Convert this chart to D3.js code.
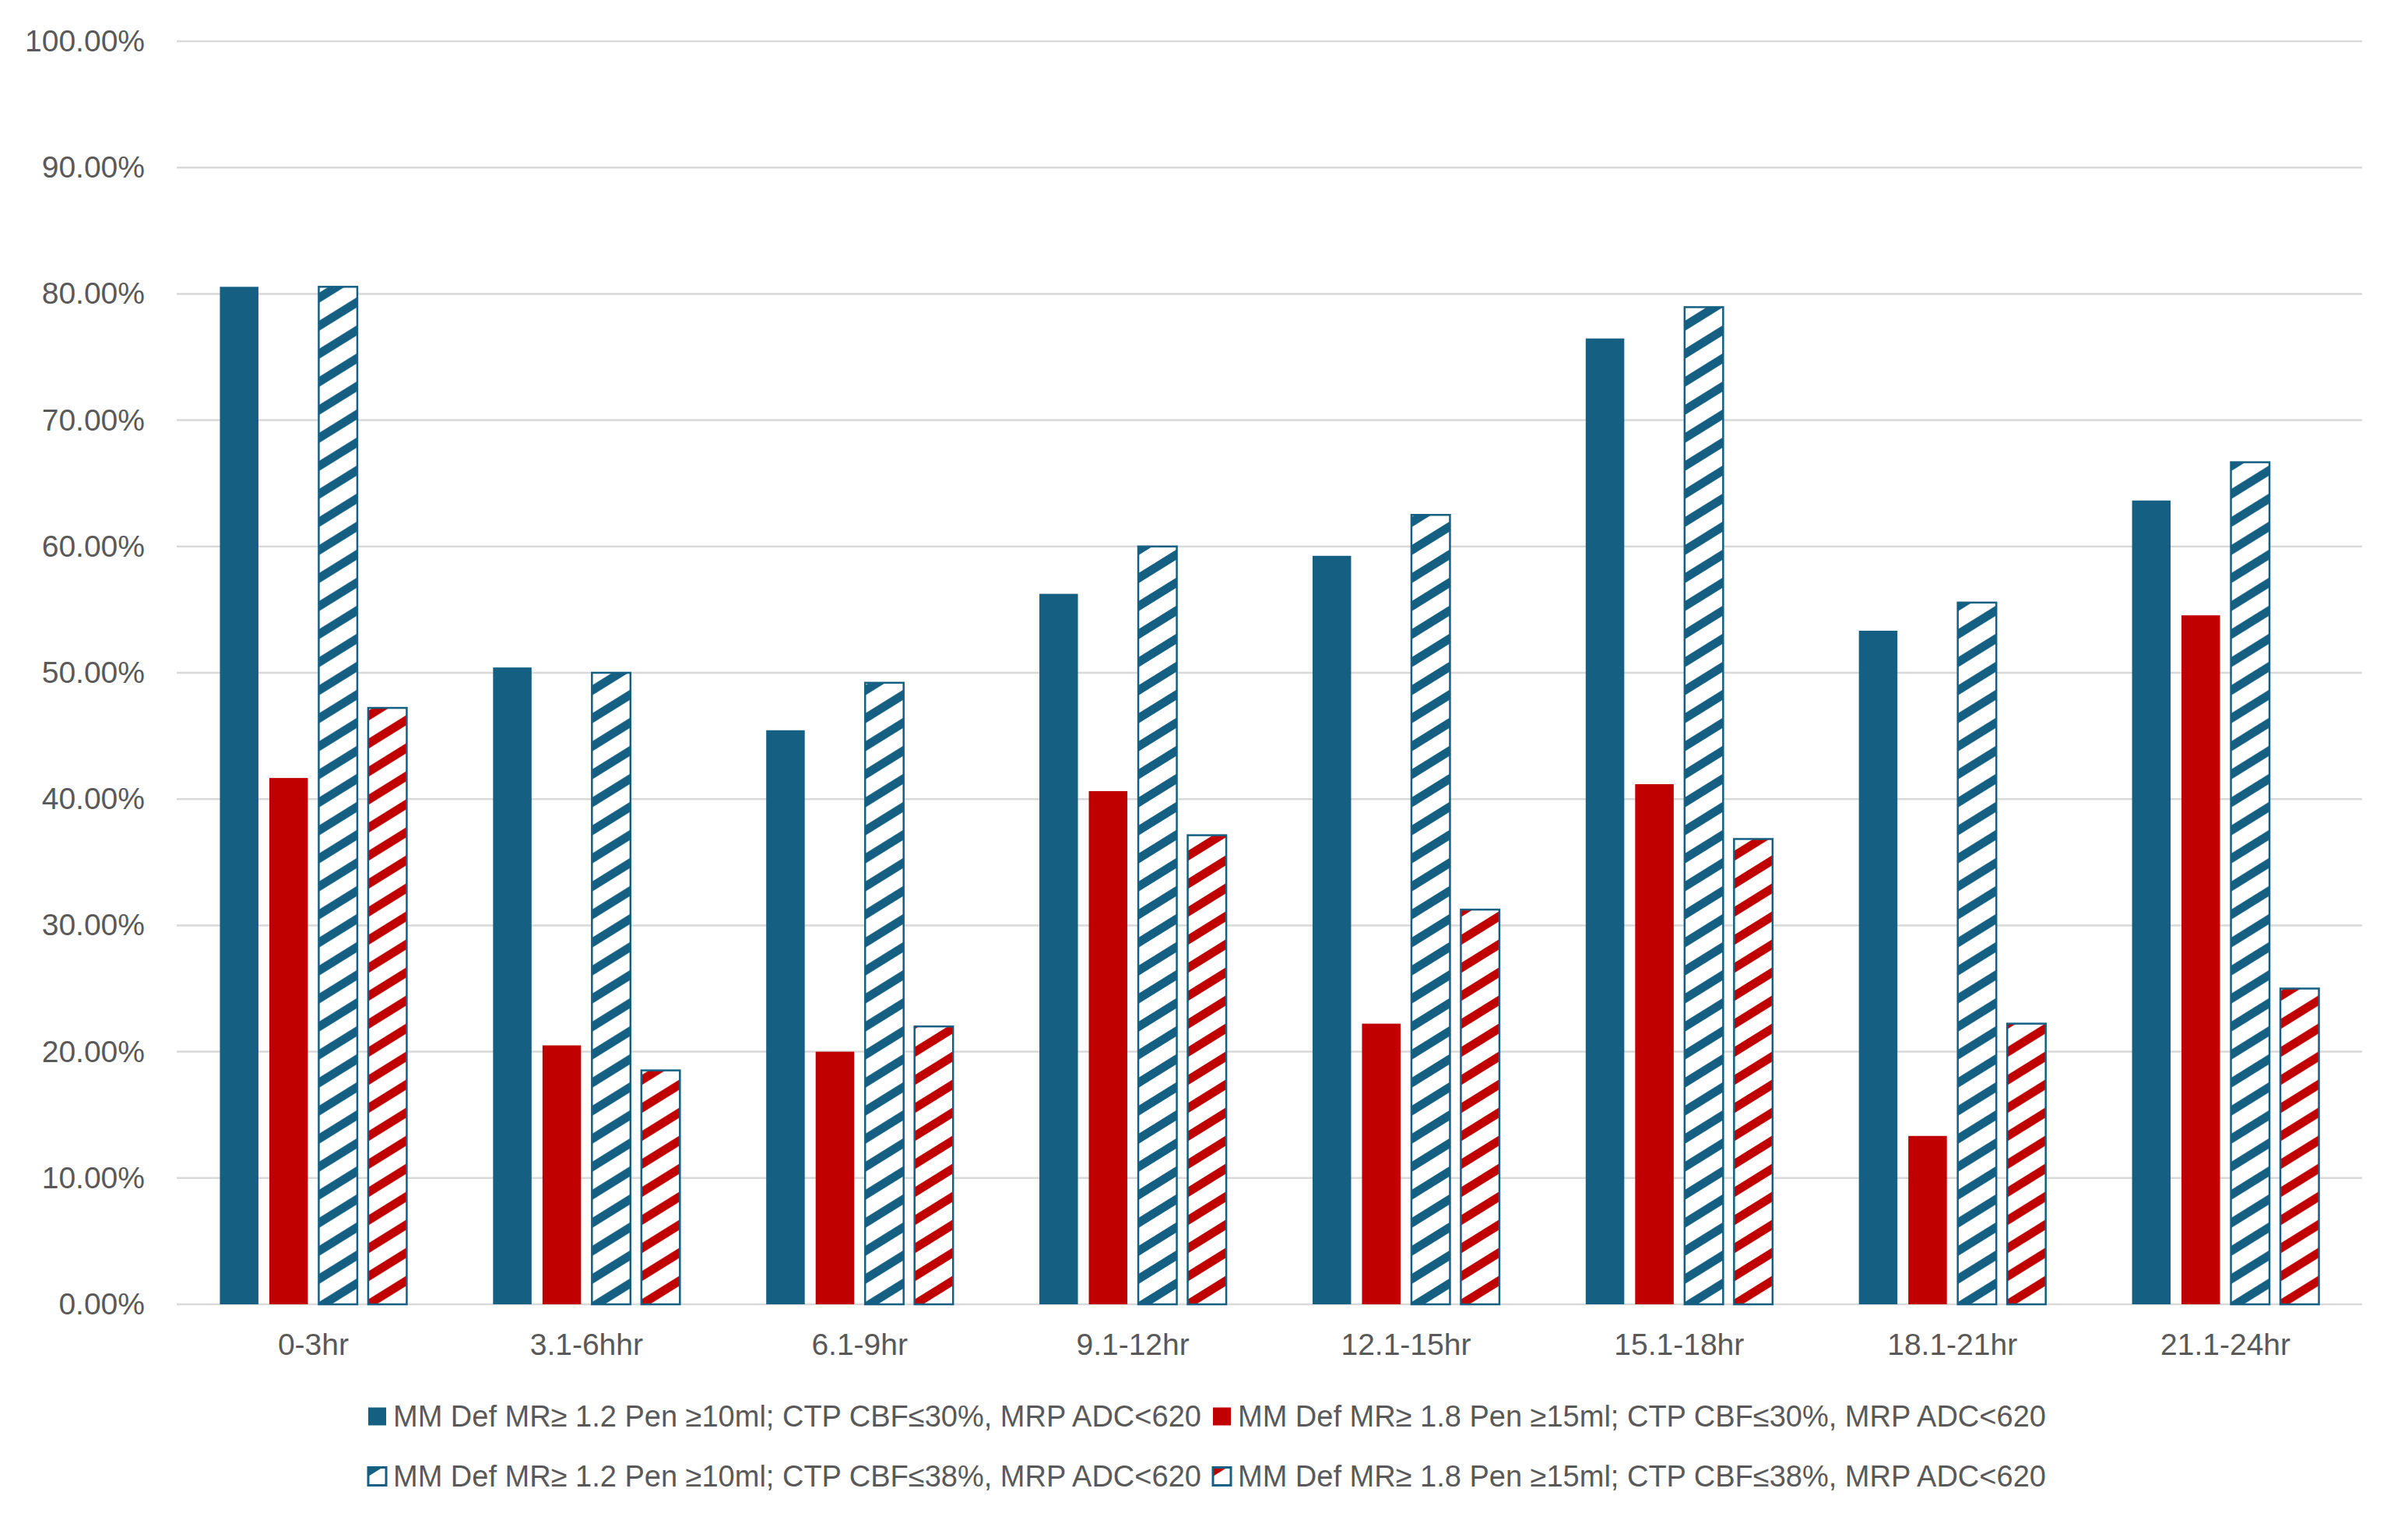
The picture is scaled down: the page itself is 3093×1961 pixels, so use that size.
<!DOCTYPE html>
<html>
<head>
<meta charset="utf-8">
<script src="https://cdn.jsdelivr.net/npm/d3@7"></script>
<style>
  body { margin: 0; background: #fff; }
  text { font-family: "Liberation Sans", Arial, sans-serif; fill: #595959; }
</style>
</head>
<body>
<div class="chart"></div>
<script>
//// data

const categories = ['0-3hr', '3.1-6hhr', '6.1-9hr', '9.1-12hr', '12.1-15hr', '15.1-18hr', '18.1-21hr', '21.1-24hr'];
const seriesNames = [
    'MM Def MR≥ 1.2 Pen ≥10ml; CTP CBF≤30%, MRP ADC<620',
    'MM Def MR≥ 1.8 Pen ≥15ml; CTP CBF≤30%, MRP ADC<620',
    'MM Def MR≥ 1.2 Pen ≥10ml; CTP CBF≤38%, MRP ADC<620',
    'MM Def MR≥ 1.8 Pen ≥15ml; CTP CBF≤38%, MRP ADC<620'
];
const mr12cbf30 = [0.8056, 0.5042, 0.4545, 0.5625, 0.5926, 0.7647, 0.5333, 0.6364];
const mr18cbf30 = [0.4167, 0.2050, 0.2000, 0.4063, 0.2222, 0.4118, 0.1333, 0.5455];
const mr12cbf38 = [0.8056, 0.5000, 0.4921, 0.6000, 0.6250, 0.7895, 0.5556, 0.6667];
const mr18cbf38 = [0.4722, 0.1852, 0.2200, 0.3714, 0.3125, 0.3684, 0.2222, 0.2500];
const yTicks = [0, 0.1, 0.2, 0.3, 0.4, 0.5, 0.6, 0.7, 0.8, 0.9, 1.0];

const BLUE = '#156082';
const RED = '#c00000';

const series = [
    {name: seriesNames[0], values: mr12cbf30, color: BLUE, hatched: false},
    {name: seriesNames[1], values: mr18cbf30, color: RED, hatched: false},
    {name: seriesNames[2], values: mr12cbf38, color: BLUE, hatched: true},
    {name: seriesNames[3], values: mr18cbf38, color: RED, hatched: true}
];

const W = 3093, H = 1961;
const margin = {left: 227, right: 59, top: 53, bottom: 286};

const svg = d3.select('.chart').append('svg')
    .attr('width', W)
    .attr('height', H);

// hatch patterns, one per colour - "/" stripes, a bit flatter than 45deg
const defs = svg.append('defs');
const PW = 58, PH = 36, T = 13;
series.filter(s => s.hatched).forEach((s, i) => {
    const p = defs.append('pattern')
        .attr('id', 'hatch' + i)
        .attr('patternUnits', 'userSpaceOnUse')
        .attr('width', PW)
        .attr('height', PH);
    p.append('rect').attr('width', PW).attr('height', PH).attr('fill', '#fff');
    [0, 1].forEach(k => {
        p.append('polygon')
            .attr('points', [[0, PH + k * PH], [0, PH - T + k * PH], [PW, -T + k * PH], [PW, k * PH]].join(' '))
            .attr('fill', s.color);
    });
    s.fillId = 'url(#hatch' + i + ')';
});

const x0 = d3.scaleBand()
    .domain(categories)
    .range([margin.left, W - margin.right]);

// bars ~49.5 wide, ~14 gap, rest is gap between groups
const barW = 49.5, barGap = 14;
const groupW = 4 * barW + 3 * barGap;
const x1 = d3.scaleBand()
    .domain(d3.range(4))
    .range([0, groupW])
    .paddingInner(barGap / (barW + barGap));

const y = d3.scaleLinear()
    .domain([0, 1])
    .range([H - margin.bottom, margin.top]);

// gridlines
svg.append('g')
    .selectAll('line')
    .data(yTicks)
    .join('line')
    .attr('x1', margin.left)
    .attr('x2', W - margin.right)
    .attr('y1', d => y(d))
    .attr('y2', d => y(d))
    .attr('stroke', '#d9d9d9')
    .attr('stroke-width', 2.5);

// y axis labels
const yAxis = svg.append('g')
    .attr('transform', `translate(${margin.left},0)`)
    .call(d3.axisLeft(y).tickValues(yTicks).tickFormat(d3.format('.2%')).tickSize(0).tickPadding(41));
yAxis.select('.domain').remove();
yAxis.selectAll('text')
    .style('font-family', '"Liberation Sans", Arial, sans-serif')
    .style('font-size', '39px')
    .attr('fill', '#595959');

// x axis labels
const xAxis = svg.append('g')
    .attr('transform', `translate(0,${H - margin.bottom})`)
    .call(d3.axisBottom(x0).tickSize(0).tickPadding(37));
xAxis.select('.domain').remove();
xAxis.selectAll('text')
    .style('font-family', '"Liberation Sans", Arial, sans-serif')
    .style('font-size', '39px')
    .attr('fill', '#595959');

// bars
const groups = svg.append('g')
    .selectAll('g')
    .data(categories)
    .join('g')
    .attr('transform', d => `translate(${x0(d) + (x0.bandwidth() - groupW) / 2},0)`);

groups.selectAll('rect')
    .data((c, ci) => series.map((s, si) => ({s: s, si: si, v: s.values[ci]})))
    .join('rect')
    .attr('x', d => x1(d.si))
    .attr('width', x1.bandwidth())
    .attr('y', d => y(d.v))
    .attr('height', d => y(0) - y(d.v))
    .attr('fill', d => d.s.hatched ? d.s.fillId : d.s.color)
    .attr('stroke', d => d.s.hatched ? BLUE : 'none')
    .attr('stroke-width', 2.5);

// legend, two rows of two
const legendPos = [
    {x: 473, y: 1819}, {x: 1558, y: 1819},
    {x: 473, y: 1896}, {x: 1558, y: 1896}
];
const legend = svg.append('g')
    .selectAll('g')
    .data(series)
    .join('g')
    .attr('transform', (d, i) => `translate(${legendPos[i].x},${legendPos[i].y})`);

legend.append('rect')
    .attr('x', 0)
    .attr('y', -11.5)
    .attr('width', 23)
    .attr('height', 23)
    .attr('fill', d => d.hatched ? d.fillId : d.color)
    .attr('stroke', d => d.hatched ? BLUE : 'none')
    .attr('stroke-width', 3);

legend.append('text')
    .attr('x', 32)
    .attr('dy', '0.35em')
    .style('font-size', '38px')
    .text(d => d.name);
</script>
</body>
</html>
